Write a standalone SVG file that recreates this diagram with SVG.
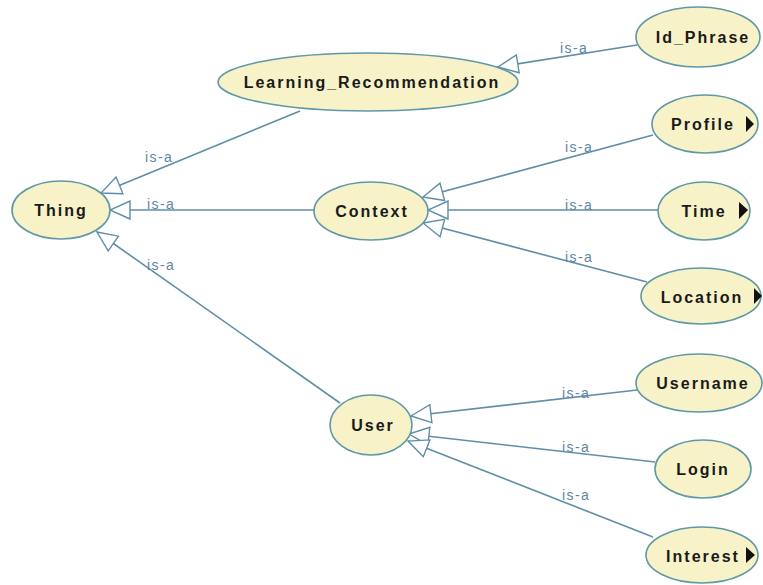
<svg xmlns="http://www.w3.org/2000/svg" width="763" height="585" viewBox="0 0 763 585">
  <style>
    .node ellipse { fill: #f7f2c8; stroke: #5f98a6; stroke-width: 1.6; }
    .node text { font-family: "Liberation Sans", Arial, sans-serif; font-weight: bold; font-size: 16px; letter-spacing: 2px; fill: #1a1a1a; text-anchor: middle; }
    .more { fill: #111; }
    .edge { stroke: #5f8ea8; stroke-width: 1.6; fill: none; marker-end: url(#isa); }
    .lbl { font-family: "Liberation Sans", Arial, sans-serif; font-size: 14px; letter-spacing: 1.4px; fill: #5e86a2; }
  </style>
  <defs>
    <marker id="isa" viewBox="-1 -1 22 20" refX="20" refY="9" markerWidth="22" markerHeight="20" markerUnits="userSpaceOnUse" orient="auto">
      <path d="M0,0 L20,9 L0,18 Z" fill="#ffffff" stroke="#5f8ea8" stroke-width="1.4"/>
    </marker>
  </defs>
  <rect width="763" height="585" fill="#ffffff"/>

  <!-- connectors: subclass edges point at the parent class -->
  <g id="connectors">
    <line class="edge" x1="300" y1="111" x2="101" y2="193"/>
    <line class="edge" x1="315" y1="210" x2="110" y2="210"/>
    <line class="edge" x1="340" y1="403" x2="97" y2="232"/>
    <line class="edge" x1="637" y1="45" x2="498" y2="67"/>
    <line class="edge" x1="653" y1="135" x2="423" y2="197"/>
    <line class="edge" x1="658" y1="210" x2="428" y2="210"/>
    <line class="edge" x1="647" y1="282" x2="423" y2="223"/>
    <line class="edge" x1="637" y1="390" x2="411" y2="416"/>
    <line class="edge" x1="655" y1="462" x2="409" y2="434"/>
    <line class="edge" x1="653" y1="537" x2="408" y2="441"/>

    <text class="lbl" x="145" y="162">is-a</text>
    <text class="lbl" x="147" y="209">is-a</text>
    <text class="lbl" x="147" y="270">is-a</text>
    <text class="lbl" x="560" y="53">is-a</text>
    <text class="lbl" x="565" y="152">is-a</text>
    <text class="lbl" x="565" y="210">is-a</text>
    <text class="lbl" x="565" y="262">is-a</text>
    <text class="lbl" x="562" y="398">is-a</text>
    <text class="lbl" x="562" y="452">is-a</text>
    <text class="lbl" x="562" y="500">is-a</text>
  </g>

  <g id="thing" class="node">
    <ellipse cx="61" cy="210" rx="49" ry="29"/>
    <text x="61" y="216">Thing</text>
  </g>
  <g id="learning_recommendation" class="node">
    <ellipse cx="368" cy="82" rx="150" ry="29"/>
    <text x="372" y="88">Learning_Recommendation</text>
  </g>
  <g id="id_phrase" class="node">
    <ellipse cx="698" cy="37" rx="62" ry="30"/>
    <text x="703" y="43">Id_Phrase</text>
  </g>
  <g id="context" class="node">
    <ellipse cx="371" cy="211" rx="57" ry="29"/>
    <text x="372" y="217">Context</text>
  </g>
  <g id="profile" class="node">
    <ellipse cx="705" cy="124" rx="53" ry="29"/>
    <text x="703" y="130">Profile</text>
    <path class="more" d="M746,116 L754,124 L746,132 Z"/>
  </g>
  <g id="time" class="node">
    <ellipse cx="704" cy="211" rx="46" ry="29"/>
    <text x="704" y="217">Time</text>
    <path class="more" d="M739,202 L748,210 L739,219 Z"/>
  </g>
  <g id="location" class="node">
    <ellipse cx="701" cy="296" rx="60" ry="28"/>
    <text x="702" y="303">Location</text>
    <path class="more" d="M754,288 L762,296 L754,304 Z"/>
  </g>
  <g id="user" class="node">
    <ellipse cx="371" cy="425" rx="41" ry="30"/>
    <text x="373" y="431">User</text>
  </g>
  <g id="username" class="node">
    <ellipse cx="699" cy="383" rx="63" ry="29"/>
    <text x="703" y="389">Username</text>
  </g>
  <g id="login" class="node">
    <ellipse cx="703" cy="469" rx="48" ry="29"/>
    <text x="703" y="475">Login</text>
  </g>
  <g id="interest" class="node">
    <ellipse cx="702" cy="555" rx="56" ry="28"/>
    <text x="703" y="562">Interest</text>
    <path class="more" d="M746,547 L755,555 L746,563 Z"/>
  </g>
</svg>
